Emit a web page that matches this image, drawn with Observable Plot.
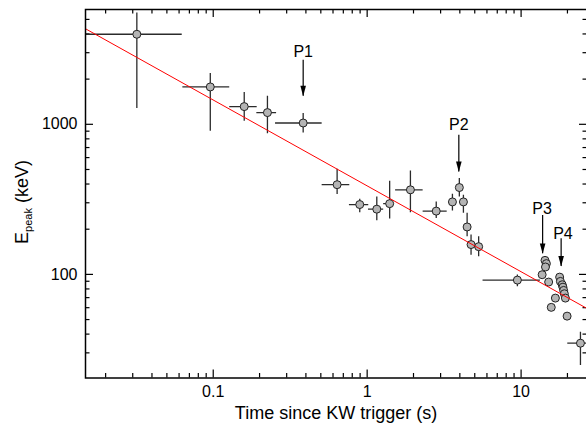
<!DOCTYPE html>
<html>
<head>
<meta charset="utf-8">
<script src="https://cdn.jsdelivr.net/npm/d3@7"></script>
<script src="https://cdn.jsdelivr.net/npm/@observablehq/plot@0.6"></script>
<style>
  html, body { margin: 0; padding: 0; background: #fff; overflow: hidden; }
  #chart svg { display: block; }
</style>
</head>
<body>
<div id="chart"></div>
<script>
// ---- data ----
const timeS   = [0.0319, 0.0957, 0.159, 0.225, 0.384, 0.638, 0.895, 1.155, 1.40, 1.91, 2.81, 3.58, 3.97, 4.22, 4.46, 4.73, 5.30, 9.46,
                 14.3, 14.6, 14.4, 13.7, 15.1, 16.7, 15.7,
                 17.8, 18.0, 18.5, 18.7, 18.9, 19.1, 19.4, 19.9, 24.3];
const epeak   = [3980, 1774, 1312, 1197, 1020, 396, 292, 272, 296, 366, 264, 304, 379, 304, 207, 158, 153, 91.6,
                 124, 118, 112, 99.5, 88.9, 69.5, 60.3,
                 95.9, 89.8, 85.3, 82.2, 78.2, 74.3, 69.5, 52.7, 34.8];
const timeLo  = [0.010, 0.0635, 0.128, 0.192, 0.254, 0.51, 0.767, 1.02, 1.28, 1.53, 2.31, null, null, null, null, null, 4.92, 5.66,
                 null, null, null, null, null, null, null,
                 null, null, null, null, null, null, null, null, 20.1];
const timeHi  = [0.0629, 0.128, 0.193, 0.258, 0.51, 0.771, 1.024, 1.28, 1.49, 2.31, 3.31, null, null, null, null, null, 5.58, 13.35,
                 null, null, null, null, null, null, null,
                 null, null, null, null, null, null, null, null, 30];
const epeakLo = [1273, 898, 1047, 866, 875, 341, 257, 228, 234, 257, 236, 264, 328, 255, 178, 134, 131, 82.6,
                 null, null, null, null, null, null, null,
                 null, null, null, null, null, null, null, null, 24.7];
const epeakHi = [5520, 2178, 1626, 1535, 1178, 502, 317, 328, 418, 489, 304, 342, 436, 337, 255, 183, 178, 98.9,
                 null, null, null, null, null, null, null,
                 null, null, null, null, null, null, null, null, 41.2];

// power-law fit line (end points)
const fitTime  = [0.0148, 27];
const fitEpeak = [4330, 59];

// pulse annotations
const pulseLabels  = ["P1", "P2", "P3", "P4"];
const labelTime    = [0.384, 3.94, 13.7, 18.7];
const labelEpeak   = [3034, 985, 274, 187];
const arrowTime    = [0.384, 3.94, 13.8, 18.2];
const arrowTopE    = [2672, 845, 247, 173];
const arrowTipE    = [1538, 481, 137, 113];

// axis ticks
const xMajor = [0.1, 1, 10];
const xMinor = [0.02,0.03,0.04,0.05,0.06,0.07,0.08,0.09, 0.2,0.3,0.4,0.5,0.6,0.7,0.8,0.9, 2,3,4,5,6,7,8,9, 20];
const yMajor = [100, 1000];
const yMinor = [30,40,50,60,70,80,90, 200,300,400,500,600,700,800,900, 2000,3000,4000,5000];

// ---- build tables ----
const points = timeS.map((t, i) => ({t, E: epeak[i], tLo: timeLo[i], tHi: timeHi[i], eLo: epeakLo[i], eHi: epeakHi[i]}));
const fit = fitTime.map((t, i) => ({t, E: fitEpeak[i]}));
const pulses = pulseLabels.map((p, i) => ({p, lt: labelTime[i], le: labelEpeak[i], at: arrowTime[i], a1: arrowTopE[i], a2: arrowTipE[i]}));

// ---- layout ----
const W = 586, H = 425;
const mL = 85, mR = -1, mT = 9, mB = 47.5;
const innerH = H - mT - mB, innerW = W - mL - mR;
const majorLen = 8, minorLen = 4.5;

// downward filled arrow head (tip at the anchor)
const arrowHead = {
  draw(ctx, size) {
    const r = Math.sqrt(size / Math.PI);
    const L = 2.6 * r, w = 0.7 * r;
    ctx.moveTo(0, 0);
    ctx.lineTo(-w, -L);
    ctx.lineTo(w, -L);
    ctx.closePath();
  }
};

const ink = "#000";
const barColor = "#2b2b2b";

const svg = Plot.plot({
  width: W, height: H,
  marginLeft: mL, marginRight: mR, marginTop: mT, marginBottom: mB,
  style: {fontFamily: "'Liberation Sans', Arial, sans-serif", fontSize: "16px", background: "#fff", overflow: "hidden"},
  x: {type: "log", domain: [0.0148, 27]},
  y: {type: "log", domain: [20.4, 5820]},
  marks: [
    // ticks (inward) bottom / top
    Plot.tickX(xMajor, {x: d => d, insetTop: innerH - majorLen, stroke: ink, strokeWidth: 1.2}),
    Plot.tickX(xMinor, {x: d => d, insetTop: innerH - minorLen, stroke: ink, strokeWidth: 1.2}),
    Plot.tickX(xMajor, {x: d => d, insetBottom: innerH - majorLen, stroke: ink, strokeWidth: 1.2}),
    Plot.tickX(xMinor, {x: d => d, insetBottom: innerH - minorLen, stroke: ink, strokeWidth: 1.2}),
    // ticks (inward) left / right
    Plot.tickY(yMajor, {y: d => d, insetRight: innerW - majorLen, stroke: ink, strokeWidth: 1.2}),
    Plot.tickY(yMinor, {y: d => d, insetRight: innerW - minorLen, stroke: ink, strokeWidth: 1.2}),
    Plot.tickY(yMajor, {y: d => d, insetLeft: innerW - majorLen, stroke: ink, strokeWidth: 1.2}),
    Plot.tickY(yMinor, {y: d => d, insetLeft: innerW - minorLen, stroke: ink, strokeWidth: 1.2}),
    // tick labels
    Plot.axisX({ticks: xMajor, tickSize: 0, tickPadding: 8, tickFormat: d => String(d), fontSize: 16, label: null, fill: ink}),
    Plot.axisY({ticks: yMajor, tickSize: 0, tickPadding: 8, tickFormat: d => String(d), fontSize: 16, label: null, fill: ink}),
    // error bars
    Plot.ruleY(points, {filter: d => d.tLo != null, y: "E", x1: "tLo", x2: "tHi", stroke: barColor, strokeWidth: 1.3, clip: true}),
    Plot.ruleX(points, {filter: d => d.eLo != null, x: "t", y1: "eLo", y2: "eHi", stroke: barColor, strokeWidth: 1.3, clip: true}),
    // data points
    Plot.dot(points, {x: "t", y: "E", r: 4, fill: "#b4b4b4", stroke: "#222", strokeWidth: 1, clip: true}),
    // fit line
    Plot.line(fit, {x: "t", y: "E", stroke: "#ff0000", strokeWidth: 1, clip: true}),
    // annotations
    Plot.ruleX(pulses, {x: "at", y1: "a1", y2: "a2", stroke: ink, strokeWidth: 1.2}),
    Plot.dot(pulses, {x: "at", y: "a2", symbol: arrowHead, r: 4, fill: ink, stroke: "none"}),
    Plot.text(pulses, {x: "lt", y: "le", text: "p", fontSize: 16, fill: ink}),
    // frame
    Plot.frame({stroke: ink, strokeWidth: 1.5})
  ]
});

const s = d3.select(svg);
// x axis title
s.append("text")
  .attr("x", 336).attr("y", 419)
  .attr("text-anchor", "middle")
  .attr("font-size", 18)
  .attr("fill", ink)
  .text("Time since KW trigger (s)");
// y axis title with subscript
const yt = s.append("text")
  .attr("transform", "translate(28,202) rotate(-90)")
  .attr("text-anchor", "middle")
  .attr("font-size", 18)
  .attr("fill", ink);
yt.append("tspan").text("E");
yt.append("tspan").attr("font-size", 11).attr("dy", 4).text("peak");
yt.append("tspan").attr("dy", -4).text(" (keV)");

document.getElementById("chart").appendChild(svg);
</script>
</body>
</html>
